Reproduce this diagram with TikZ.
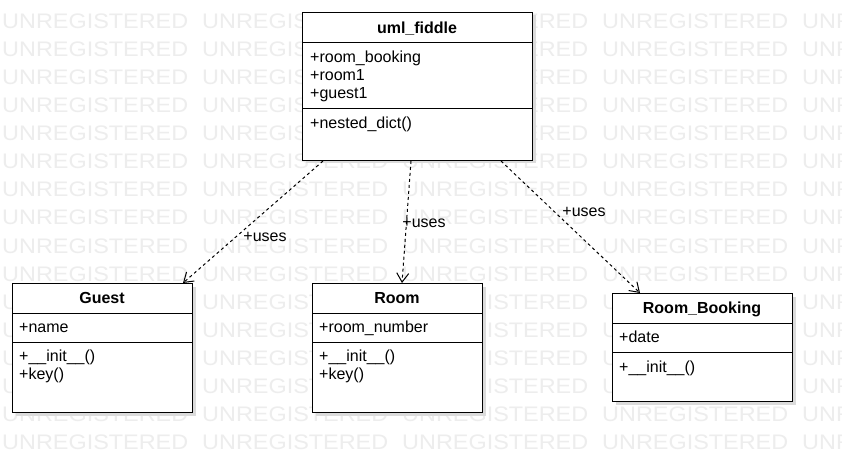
\documentclass[tikz,border=0pt]{standalone}
\usepackage{fontspec}
\usepackage{graphicx}
\setmainfont{Liberation Sans}
\usetikzlibrary{arrows.meta,shadows}
\begin{document}
\begin{tikzpicture}[x=1pt,y=-1pt,
  wm/.style={anchor=base west,inner sep=0pt,text=black!7,font=\fontsize{21pt}{21pt}\selectfont},
  cls/.style={draw=black,line width=1pt,fill=white,rectangle,inner sep=0pt,anchor=north west,
    drop shadow={shadow xshift=3pt,shadow yshift=-3pt,fill=black!14,opacity=1}},
  sep/.style={line width=1pt},
  ttl/.style={anchor=base,inner sep=0pt,font=\bfseries\fontsize{16pt}{16pt}\selectfont},
  mem/.style={anchor=base west,inner sep=0pt,font=\fontsize{16pt}{16pt}\selectfont},
  dep/.style={line width=1pt,dash pattern=on 3pt off 3pt,-{Straight Barb[length=9pt,width=12pt,line width=1pt]}},
  lbl/.style={anchor=base,inner sep=0pt,font=\fontsize{16pt}{16pt}\selectfont}]
\useasboundingbox (0,0) rectangle (842,462);
\fill[white] (0,0) rectangle (842,462);
% watermark
\foreach \r in {0,...,15}{
  \foreach \c in {0,...,4}{
    \node[wm] (wm-\r-\c) at ({2+200*\c},{28.3+28.1*\r}) {\scalebox{1.115}[1]{UNREGISTERED}};
  }
}
% classes
\node[cls,minimum width=230pt,minimum height=148pt] (fiddle) at (302,12) {};
\node[cls,minimum width=180pt,minimum height=129pt] (guest) at (12,283) {};
\node[cls,minimum width=170pt,minimum height=129pt] (room) at (312,283) {};
\node[cls,minimum width=180pt,minimum height=108pt] (booking) at (612,293) {};
% compartments
\draw[sep] ([yshift=-31pt]fiddle.north west) -- ([yshift=-31pt]fiddle.north east);
\draw[sep] ([yshift=-97pt]fiddle.north west) -- ([yshift=-97pt]fiddle.north east);
\draw[sep] ([yshift=-30pt]guest.north west) -- ([yshift=-30pt]guest.north east);
\draw[sep] ([yshift=-59pt]guest.north west) -- ([yshift=-59pt]guest.north east);
\draw[sep] ([yshift=-30pt]room.north west) -- ([yshift=-30pt]room.north east);
\draw[sep] ([yshift=-59pt]room.north west) -- ([yshift=-59pt]room.north east);
\draw[sep] ([yshift=-30pt]booking.north west) -- ([yshift=-30pt]booking.north east);
\draw[sep] ([yshift=-59pt]booking.north west) -- ([yshift=-59pt]booking.north east);
% texts
\node[ttl] (t-fiddle) at (417,34) {uml\_fiddle};
\node[mem] (f-a1) at (310,63) {+room\_booking};
\node[mem] (f-a2) at (310,81) {+room1};
\node[mem] (f-a3) at (310,99) {+guest1};
\node[mem] (f-m1) at (310,129) {+nested\_dict()};
\node[ttl] (t-guest) at (102,303) {Guest};
\node[mem] (g-a1) at (19,332) {+name};
\node[mem] (g-m1) at (19,361) {+\_\_init\_\_()};
\node[mem] (g-m2) at (19,379) {+key()};
\node[ttl] (t-room) at (397,303) {Room};
\node[mem] (r-a1) at (319,332) {+room\_number};
\node[mem] (r-m1) at (319,361) {+\_\_init\_\_()};
\node[mem] (r-m2) at (319,379) {+key()};
\node[ttl] (t-booking) at (702,313) {Room\_Booking};
\node[mem] (b-a1) at (619,342) {+date};
\node[mem] (b-m1) at (619,372) {+\_\_init\_\_()};
% dependencies
\draw[dep] ([xshift=21pt]fiddle.south west) -- ([xshift=171pt]guest.north west);
\draw[dep] ([xshift=109pt]fiddle.south west) -- ([xshift=90pt]room.north west);
\draw[dep] ([xshift=199pt]fiddle.south west) -- ([xshift=28pt]booking.north west);
\node[lbl] (l1) at (265,241) {+uses};
\node[lbl] (l2) at (424,227) {+uses};
\node[lbl] (l3) at (584,217) {+uses};
\end{tikzpicture}
\end{document}
